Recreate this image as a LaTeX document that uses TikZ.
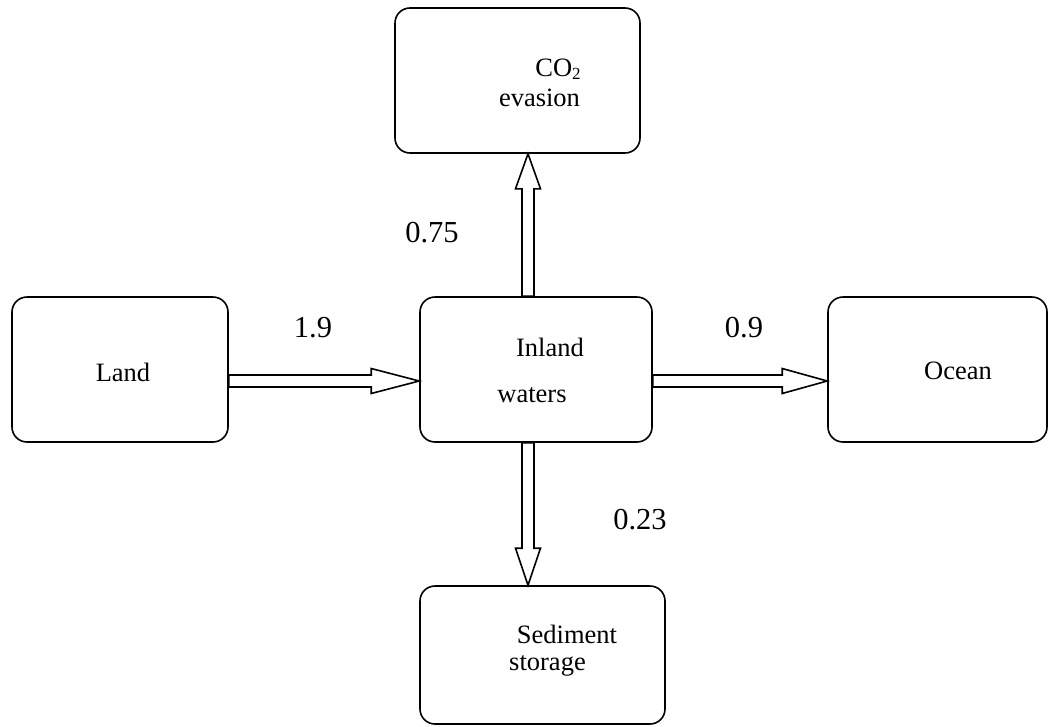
\documentclass[tikz,border=0pt]{standalone}
\usepackage{fontspec}
\setmainfont{Liberation Serif}
\usetikzlibrary{calc}
\tikzset{
  box/.style={draw, line width=1.6pt, rounded corners=15pt, inner sep=0pt},
  txt/.style={anchor=base, inner sep=0pt, font=\fontsize{26.5}{28}\selectfont},
  num/.style={anchor=base, inner sep=0pt, font=\fontsize{30.5}{32}\selectfont},
  fat/.style={draw, line width=1.6pt, line join=miter, to path={
    ($(\tikztotarget)!#1!(\tikztostart)$) coordinate (fh)
    ($(\tikztostart)!6pt!90:(\tikztotarget)$) -- ($(fh)!6pt!-90:(\tikztostart)$)
    -- ($(fh)!12.5pt!-90:(\tikztostart)$) -- (\tikztotarget)
    -- ($(fh)!12.5pt!90:(\tikztostart)$) -- ($(fh)!6pt!90:(\tikztostart)$)
    -- ($(\tikztostart)!6pt!-90:(\tikztotarget)$) -- cycle}}
}
\begin{document}
\begin{tikzpicture}[x=1pt,y=-1pt]
\useasboundingbox (0,0) rectangle (1050,726);
% boxes
\node[box, minimum width=216pt, minimum height=145pt] (land) at (120,369.5) {};
\node[box, minimum width=232pt, minimum height=145pt] (inland) at (536,369.5) {};
\node[box, minimum width=245pt, minimum height=145pt] (co2) at (517.5,80.5) {};
\node[box, minimum width=219pt, minimum height=145pt] (ocean) at (937.5,369.5) {};
\node[box, minimum width=245pt, minimum height=138pt] (sed) at (542.5,655) {};
% box texts
\node[txt] (landt) at (123,381) {Land};
\node[txt] (inlandt1) at (550,356) {Inland};
\node[txt] (inlandt2) at (532,402) {waters};
\node[txt] (oceant) at (958,379) {Ocean};
\node[txt] (co2t1) at (558,76) {CO\raisebox{-0.3ex}{\fontsize{17}{17}\selectfont 2}};
\node[txt] (co2t2) at (539.5,106) {evasion};
\node[txt] (sedt1) at (567,643) {Sediment};
\node[txt] (sedt2) at (547.5,670) {storage};
% arrow end points
\coordinate (la) at ($(land.east)+(0,11.5)$);
\coordinate (lb) at (la -| inland.west);
\coordinate (oa) at ($(inland.east)+(0,11.5)$);
\coordinate (ob) at (oa -| ocean.west);
\coordinate (ua) at ($(inland.north)+(-8,0)$);
\coordinate (ub) at (ua |- co2.south);
\coordinate (da) at ($(inland.south)+(-8,0)$);
\coordinate (db) at (da |- sed.north);
\draw[fat=48pt] (la) to (lb);
\draw[fat=45pt] (oa) to (ob);
\draw[fat=35pt] (ua) to (ub);
\draw[fat=37pt] (da) to (db);
% flux labels
\node[num] (f1) at (313,337) {1.9};
\node[num] (f2) at (432,242) {0.75};
\node[num] (f3) at (744,337) {0.9};
\node[num] (f4) at (640,529) {0.23};
\end{tikzpicture}
\end{document}
